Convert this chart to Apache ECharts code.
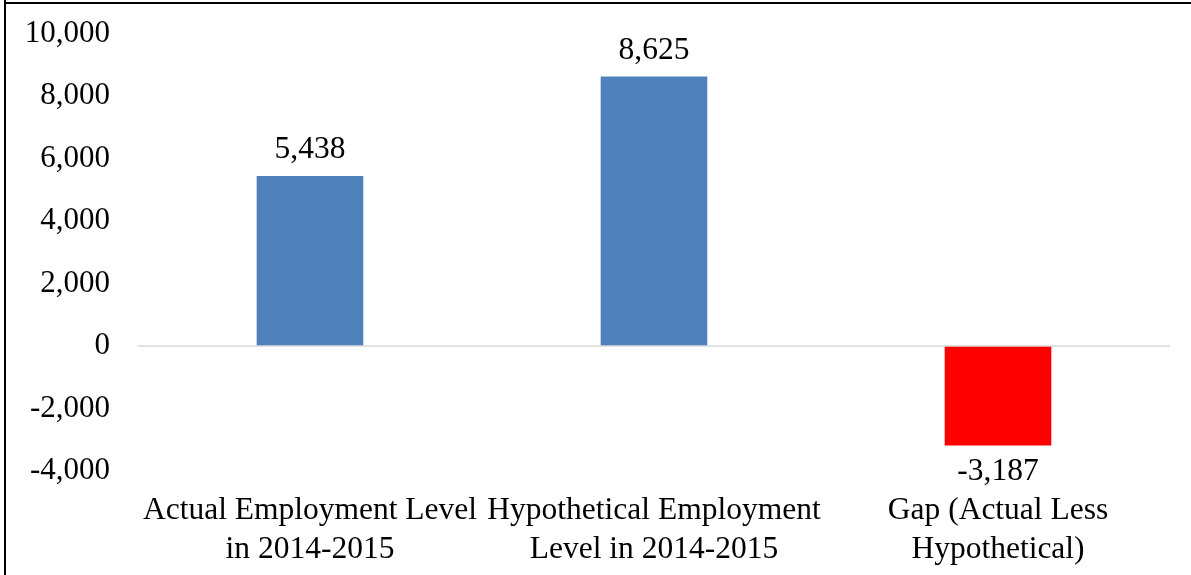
<!DOCTYPE html>
<html>
<head>
<meta charset="utf-8">
<script src="https://cdn.jsdelivr.net/npm/echarts@6/dist/echarts.min.js"></script>
<style>
html,body{margin:0;padding:0;background:#fff;}
#c{width:1191px;height:575px;}
</style>
</head>
<body>
<div id="c"></div>
<script>
const categories = ['Actual Employment Level\nin 2014-2015', 'Hypothetical Employment\nLevel in 2014-2015', 'Gap (Actual Less\nHypothetical)'];
const values = [5438, 8625, -3187];
const barColors = ['#4f81bd', '#4f81bd', '#ff0000'];
const yTicks = { min: -4000, max: 10000, interval: 2000 };

const FONT = '"Liberation Serif", "Times New Roman", serif';
const chart = echarts.init(document.getElementById('c'));
chart.setOption({
  animation: false,
  backgroundColor: '#fff',
  textStyle: { fontFamily: FONT },
  graphic: [
    { type: 'line', shape: { x1: 5, y1: 0, x2: 5, y2: 575 }, style: { stroke: '#000', lineWidth: 2 } },
    { type: 'line', shape: { x1: 4, y1: 3, x2: 1191, y2: 3 }, style: { stroke: '#000', lineWidth: 2 } }
  ],
  grid: { left: 138, right: 21, top: 33.5, bottom: 104 },
  xAxis: {
    type: 'category',
    data: categories,
    axisLine: { show: false, onZero: false },
    axisTick: { show: false },
    axisLabel: {
      interval: 0, margin: 20, color: '#000', fontFamily: FONT,
      fontSize: 31.5, lineHeight: 39
    }
  },
  yAxis: {
    type: 'value',
    min: yTicks.min, max: yTicks.max, interval: yTicks.interval,
    axisLine: { show: false },
    axisTick: { show: false },
    splitLine: { show: false },
    axisLabel: {
      margin: 28, color: '#000', fontFamily: FONT, fontSize: 31,
      formatter: v => v.toLocaleString('en-US')
    }
  },
  series: [{
    type: 'bar',
    barWidth: '31%',
    data: values.map((v, i) => ({
      value: v, itemStyle: { color: barColors[i] },
      label: v < 0 ? { position: 'bottom' } : undefined
    })),
    label: {
      show: true, position: 'top', distance: 10, color: '#000',
      fontFamily: FONT, fontSize: 31.5,
      formatter: p => p.value.toLocaleString('en-US')
    },
    markLine: {
      silent: true, symbol: 'none', label: { show: false },
      lineStyle: { color: '#d9d9d9', width: 1.5, type: 'solid' },
      data: [{ yAxis: 0 }]
    }
  }]
});
</script>
</body>
</html>
